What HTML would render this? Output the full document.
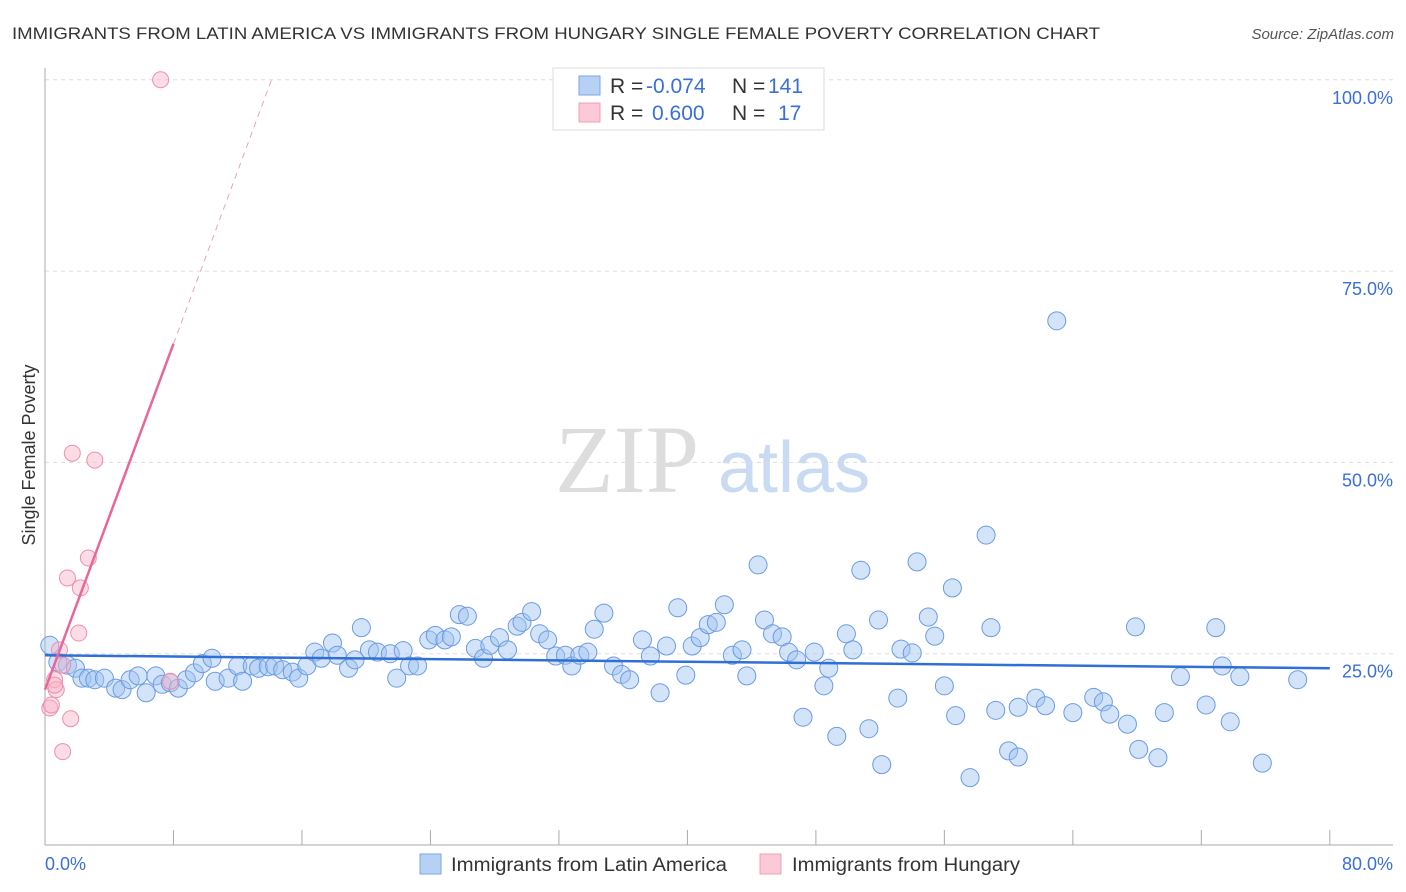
<!DOCTYPE html>
<html><head><meta charset="utf-8"><style>
body{margin:0;background:#fff;font-family:"Liberation Sans",sans-serif}
svg{display:block}
</style></head><body>
<svg width="1406" height="892">
<text x="12" y="39" font-size="17" fill="#333" textLength="1088" lengthAdjust="spacingAndGlyphs">IMMIGRANTS FROM LATIN AMERICA VS IMMIGRANTS FROM HUNGARY SINGLE FEMALE POVERTY CORRELATION CHART</text>
<text x="1394" y="39" font-size="15" fill="#555" font-style="italic" text-anchor="end">Source: ZipAtlas.com</text>
<text x="555" y="492" font-size="96" fill="#ddd" font-family="Liberation Serif">ZIP</text>
<text x="718" y="492" font-size="72" fill="#c9daf3">atlas</text>
<g id="grid"></g>
<g id="axes"></g>
<g id="pts"></g>
<g id="lines"></g>
<text x="35" y="455" font-size="18" fill="#333" transform="rotate(-90 35 455)" text-anchor="middle">Single Female Poverty</text>
<g>
<rect x="553" y="68" width="271" height="62" fill="#fff" stroke="#ddd"/>
<rect x="579" y="76" width="21" height="19" fill="#b7d1f5" stroke="#7aa6e6"/>
<rect x="579" y="103" width="21" height="19" fill="#fbc9d7" stroke="#eea0b5"/>
<text y="93" font-size="21" fill="#333"><tspan x="610">R = </tspan><tspan fill="#3a6fd8" x="646">-0.074</tspan><tspan x="732">N = </tspan><tspan fill="#3a6fd8" x="768">141</tspan></text>
<text y="120" font-size="21" fill="#333"><tspan x="610">R = </tspan><tspan fill="#3a6fd8" x="652">0.600</tspan><tspan x="732">N = </tspan><tspan fill="#3a6fd8" x="778">17</tspan></text>
</g>
<g>
<rect x="420" y="854" width="21" height="20" fill="#b7d1f5" stroke="#7aa6e6"/>
<text x="451" y="871" font-size="19" fill="#333" textLength="276" lengthAdjust="spacingAndGlyphs">Immigrants from Latin America</text>
<rect x="760" y="854" width="21" height="20" fill="#fbc9d7" stroke="#eea0b5"/>
<text x="792" y="871" font-size="19" fill="#333" textLength="228" lengthAdjust="spacingAndGlyphs">Immigrants from Hungary</text>
</g>
<text x="45" y="870" font-size="18" fill="#3a6fd8">0.0%</text>
<text x="1393" y="870" font-size="18" fill="#3a6fd8" text-anchor="end">80.0%</text>
</svg>
<script>
const blueX=[0.3,0.8,1.4,1.9,2.3,2.7,3.1,3.7,4.4,4.8,5.3,5.8,6.3,6.9,7.3,7.8,8.3,8.8,9.3,9.8,10.4,10.6,11.4,12.0,12.3,12.9,13.3,13.9,14.3,14.8,15.4,15.8,16.3,16.8,17.2,17.9,18.2,18.9,19.3,19.7,20.2,20.7,21.5,21.9,22.3,22.7,23.2,23.9,24.3,24.9,25.3,25.8,26.3,26.8,27.3,27.7,28.3,28.8,29.4,29.7,30.3,30.8,31.3,31.8,32.4,32.8,33.3,33.8,34.2,34.8,35.4,35.9,36.4,37.2,37.7,38.3,38.7,39.4,39.9,40.3,40.8,41.3,41.8,42.3,42.8,43.4,43.7,44.4,44.8,45.3,45.9,46.3,46.8,47.2,47.9,48.5,48.8,49.3,49.9,50.3,50.8,51.3,51.9,52.1,53.1,53.3,54.0,54.3,55.0,55.4,56.0,56.5,56.7,57.6,58.6,58.9,59.2,60.0,60.6,60.6,61.7,62.3,63.0,64.0,65.3,65.9,66.3,67.4,67.9,68.1,69.3,69.7,70.7,72.3,72.9,73.3,73.8,74.4,75.8,78.0];
const blueY=[26.1,23.9,23.5,23.1,21.8,21.8,21.6,21.8,20.5,20.3,21.6,22.1,19.9,22.1,21.0,21.2,20.5,21.6,22.5,23.7,24.4,21.4,21.8,23.4,21.4,23.4,23.1,23.3,23.4,22.9,22.6,21.8,23.4,25.2,24.4,26.4,24.8,23.1,24.2,28.4,25.5,25.2,25.0,21.8,25.4,23.4,23.4,26.8,27.4,26.8,27.2,30.1,29.9,25.7,24.4,26.1,27.1,25.5,28.6,29.1,30.5,27.6,26.8,24.7,24.8,23.4,24.8,25.2,28.2,30.3,23.4,22.3,21.6,26.8,24.7,19.9,26.0,31.0,22.2,26.0,27.1,28.8,29.1,31.4,24.8,25.5,22.1,36.6,29.4,27.6,27.2,25.2,24.2,16.7,25.2,20.8,23.1,14.2,27.6,25.5,35.9,15.2,29.4,10.5,19.2,25.6,25.1,37.0,29.8,27.3,20.8,33.6,16.9,8.8,40.5,28.4,17.6,12.3,18.0,11.5,19.2,18.2,68.5,17.3,19.3,18.7,17.1,15.8,28.5,12.5,11.4,17.3,22.0,18.3,28.4,23.4,16.1,22.0,10.7,21.6];
const pinkX=[7.2,1.7,3.1,2.7,1.4,2.2,2.1,0.9,1.1,0.6,0.7,0.6,0.3,0.4,1.6,1.1,7.8];
const pinkY=[100,51.2,50.3,37.5,34.9,33.6,27.7,25.5,23.5,21.6,20.3,20.9,17.9,18.3,16.5,12.2,21.4];
const yTicks=[25,50,75,100];
const yTickLabels=["25.0%","50.0%","75.0%","100.0%"];
const xTicks=[0,8,16,24,32,40,48,56,64,72,80];
const blueTrend=[24.8,23.1];
const pinkTrend=[20.3,5.65];
const NS='http://www.w3.org/2000/svg';
const X=v=>45+v*16.06, Y=v=>845-v*7.652;
function mk(p,t,a){const e=document.createElementNS(NS,t);for(const k in a)e.setAttribute(k,a[k]);document.getElementById(p).appendChild(e);return e;}
yTicks.forEach((t,i)=>{
 const g=mk('grid','line',{x1:45,x2:1393,y1:Y(t),y2:Y(t),stroke:'#ddd','stroke-dasharray':'4,4'});
 
 
 const l=mk('grid','text',{x:1393,y:Y(t)+24,'font-size':18,fill:'#3a6fd8','text-anchor':'end'});
 l.textContent=yTickLabels[i];
 
 
});
const ax=mk('axes','line',{x1:45,x2:45,y1:68,y2:845,stroke:'#aaa'});


const bx=mk('axes','line',{x1:45,x2:1393,y1:845,y2:845,stroke:'#aaa'});


xTicks.forEach(t=>{const e=mk('axes','line',{x1:X(t),x2:X(t),y1:830,y2:845,stroke:'#aaa'});
 
 });
blueX.forEach((x,i)=>{const c=mk('pts','circle',{cx:X(x),cy:Y(blueY[i]),r:9,fill:'rgba(160,196,240,0.45)',stroke:'#6a9be3','stroke-width':1});
 
 });
pinkX.forEach((x,i)=>{const c=mk('pts','circle',{cx:X(x),cy:Y(pinkY[i]),r:8,fill:'rgba(248,180,200,0.45)',stroke:'#ec8fab','stroke-width':1});
 
 });
const bt=mk('lines','line',{x1:X(0),x2:X(80),y1:Y(blueTrend[0]),y2:Y(blueTrend[1]),stroke:'#2f6fd6','stroke-width':2.5});


const pe=(100-pinkTrend[0])/pinkTrend[1];
const pt=mk('lines','line',{x1:X(0),x2:X(8),y1:Y(pinkTrend[0]),y2:Y(pinkTrend[0]+8*pinkTrend[1]),stroke:'#e8679a','stroke-width':2.5});


const pd=mk('lines','line',{x1:X(8),x2:X(pe),y1:Y(pinkTrend[0]+8*pinkTrend[1]),y2:Y(100),stroke:'#e8a0ba','stroke-width':1,'stroke-dasharray':'6,5'});


</script>
</body></html>
